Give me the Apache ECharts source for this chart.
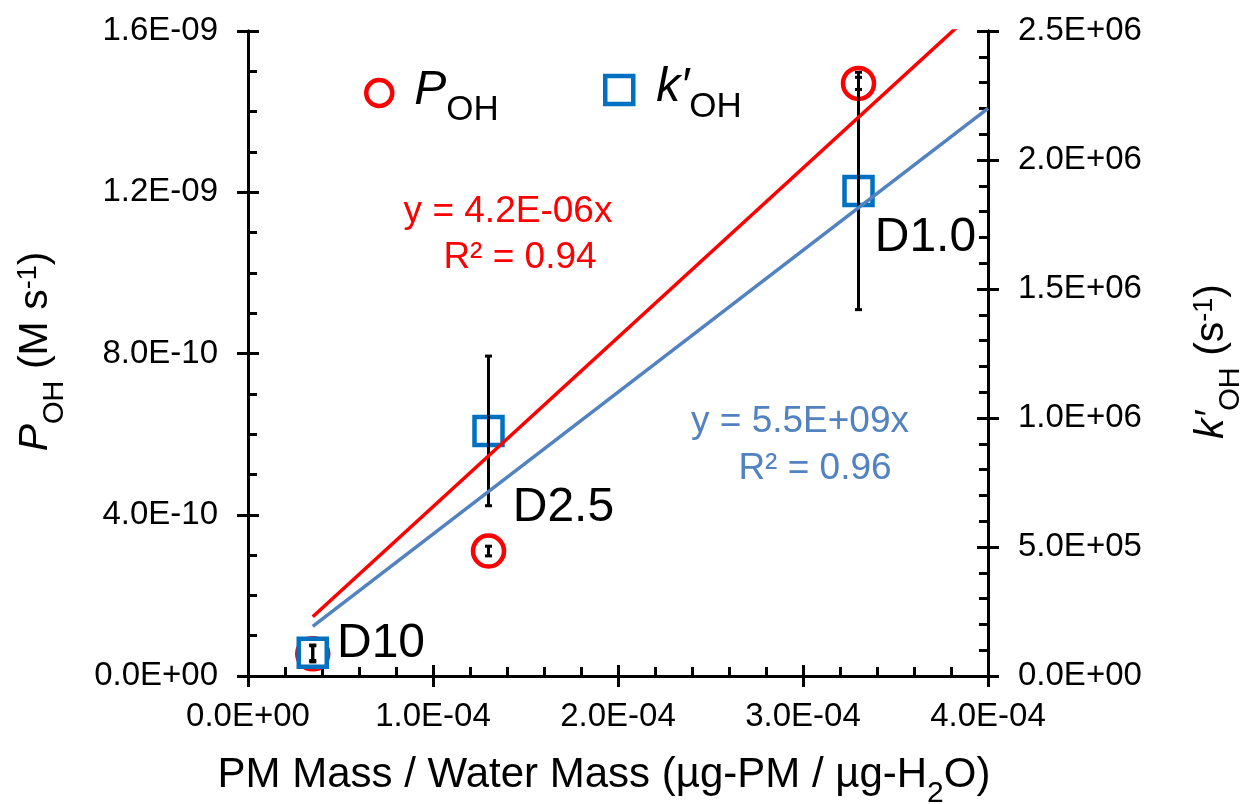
<!DOCTYPE html>
<html>
<head>
<meta charset="utf-8">
<script src="https://cdn.jsdelivr.net/npm/echarts@6/dist/echarts.min.js"></script>
<style>
  html, body { margin: 0; padding: 0; background: #fff; }
  #chart { width: 1242px; height: 804px; }
</style>
</head>
<body>
<div id="chart"></div>
<script>
// Samples (size-resolved PM extracts)
const sampleNames = ['D10', 'D2.5', 'D1.0'];
// PM mass / water mass (µg-PM / µg-H2O)
const massRatio = [3.5e-5, 1.3e-4, 3.3e-4];
// OH production rate P_OH (M s^-1) and its uncertainty
const pOH = [5.5e-11, 3.1e-10, 1.47e-9];
const pOHErr = [2.0e-11, 1.2e-11, 1.5e-11];
// OH sink k'_OH (s^-1) and its uncertainty
const kOH = [9.0e4, 9.5e5, 1.88e6];
const kOHErr = [3.0e4, 2.9e5, 4.6e5];
// Linear fits through the origin: [P_OH, k'_OH]
const trendSlopes = [4.2e-6, 5.5e9];
const trendR2 = [0.94, 0.96];
const trendXRange = [3.5e-5, 4.0e-4];
// Axis ranges: [min, max, interval]
const xRange = [0, 4.0e-4, 1.0e-4];
const leftRange = [0, 1.6e-9, 4.0e-10];
const rightRange = [0, 2.5e6, 5.0e5];

const FONT = '"Liberation Sans", Arial, sans-serif';
const RED = '#FF0000';
const BLUE = '#0070C0';
const FIT_BLUE = '#5282C0';

// Excel-style scientific notation, e.g. 1.6E-09
function sci(v, digits) {
  const s = Number(v).toExponential(digits);
  const parts = s.split('e');
  const sign = parts[1][0] === '-' ? '-' : '+';
  const exp = parts[1].replace(/^[+-]/, '').padStart(2, '0');
  return parts[0] + 'E' + sign + exp;
}

const axisLineStyle = { color: '#000', width: 3 };
const tickLabel = { color: '#000', fontFamily: FONT, fontSize: 33 };

// Main axis: line, labels, inward major + minor ticks
function mainAxis(range, splits, extra) {
  return Object.assign({
    type: 'value',
    min: range[0], max: range[1], interval: range[2],
    axisLine: { show: true, onZero: false, lineStyle: axisLineStyle },
    axisTick: { show: true, inside: true, length: 11, lineStyle: axisLineStyle },
    minorTick: { show: true, splitNumber: splits, length: 9, lineStyle: { color: '#000', width: 3 } },
    splitLine: { show: false },
    axisLabel: Object.assign({ formatter: v => sci(v, 1), margin: 30 }, tickLabel)
  }, extra);
}
// Companion axis carrying the outward half of the major ticks
function tickAxis(range, extra) {
  return Object.assign({
    type: 'value',
    min: range[0], max: range[1], interval: range[2],
    axisLine: { show: true, onZero: false, lineStyle: axisLineStyle },
    axisTick: { show: true, inside: false, length: 11, lineStyle: axisLineStyle },
    axisLabel: { show: false },
    splitLine: { show: false }
  }, extra);
}

const richCommon = {
  n: { fontFamily: FONT, fontSize: 41, color: '#000', lineHeight: 48, verticalAlign: 'top' },
  i: { fontFamily: FONT, fontSize: 41, fontStyle: 'italic', color: '#000', lineHeight: 48, verticalAlign: 'top' },
  sub: { fontFamily: FONT, fontSize: 29, color: '#000', lineHeight: 29, padding: [25, 0, 0, 0], verticalAlign: 'top' },
  sup: { fontFamily: FONT, fontSize: 27, color: '#000', lineHeight: 27, padding: [0, 0, 0, 0], verticalAlign: 'top' }
};
const richTitleX = {
  n: Object.assign({}, richCommon.n, { fontSize: 42 }),
  sub: Object.assign({}, richCommon.sub, { fontSize: 30 })
};

function errorBars(yIndex, values, errs) {
  return {
    type: 'custom',
    xAxisIndex: 0,
    yAxisIndex: yIndex,
    z: 3,
    silent: true,
    encode: { x: 0, y: [1, 2] },
    data: massRatio.map((x, i) => [x, values[i] - errs[i], values[i] + errs[i]]),
    renderItem: function (params, api) {
      const x = api.value(0);
      const lo = api.coord([x, api.value(1)]);
      const hi = api.coord([x, api.value(2)]);
      const cap = 3.5;
      const st = { stroke: '#000', lineWidth: 3 };
      return {
        type: 'group',
        children: [
          { type: 'line', shape: { x1: lo[0], y1: lo[1], x2: hi[0], y2: hi[1] }, style: st },
          { type: 'line', shape: { x1: lo[0] - cap, y1: lo[1], x2: lo[0] + cap, y2: lo[1] }, style: st },
          { type: 'line', shape: { x1: hi[0] - cap, y1: hi[1], x2: hi[0] + cap, y2: hi[1] }, style: st }
        ]
      };
    }
  };
}

function trendLine(yIndex, slope, color) {
  return {
    type: 'line',
    xAxisIndex: 0,
    yAxisIndex: yIndex,
    z: 4,
    silent: true,
    symbol: 'none',
    clip: true,
    lineStyle: { color: color, width: 3.5 },
    data: trendXRange.map(x => [x, slope * x])
  };
}

// Sample-name label placement next to each k'_OH marker
const sampleLabelOffsets = [[3, -9], [3, 77], [-5, 47]];

const option = {
  animation: false,
  backgroundColor: '#fff',
  grid: { left: 248, right: 254, top: 31, bottom: 128, containLabel: false, outerBoundsMode: 'none' },
  xAxis: [
    mainAxis(xRange, 5, {
      position: 'bottom',
      axisLabel: Object.assign({ formatter: v => sci(v, 1), margin: 24 }, tickLabel),
      name: '{n|PM Mass / Water Mass (µg-PM / µg-H}{sub|2}{n|O)}',
      nameLocation: 'middle',
      nameGap: 78,
      nameTextStyle: { rich: richTitleX, padding: [0, 28, 0, 0] }
    }),
    tickAxis(xRange, { position: 'bottom' })
  ],
  yAxis: [
    mainAxis(leftRange, 4, {
      position: 'left',
      name: '{i|P}{sub|OH}{n| (M s}{sup|-1}{n|)}',
      nameLocation: 'middle',
      nameRotate: 90,
      nameGap: 185,
      nameTextStyle: { rich: richCommon, padding: [0, 0, 0, 4] }
    }),
    mainAxis(rightRange, 5, {
      position: 'right',
      name: '{i|k′}{sub|OH}{n| (s}{sup|-1}{n|)}',
      nameLocation: 'middle',
      nameRotate: 90,
      nameGap: 203,
      nameTextStyle: { rich: richCommon, padding: [0, 16, 0, 0] }
    }),
    tickAxis(leftRange, { position: 'left' }),
    tickAxis(rightRange, { position: 'right' })
  ],
  legend: [
    {
      left: 359, top: 62,
      padding: 5,
      itemWidth: 26, itemHeight: 26,
      selectedMode: false,
      data: [{ name: 'POH', icon: 'circle', itemStyle: { color: '#fff', borderColor: RED, borderWidth: 4.5 } }],
      formatter: () => '{i|P}{s|OH}',
      textStyle: {
        rich: {
          i: { fontFamily: FONT, fontSize: 48, fontStyle: 'italic', color: '#000', lineHeight: 52, verticalAlign: 'top', padding: [0, 0, 0, 17] },
          s: { fontFamily: FONT, fontSize: 35, color: '#000', lineHeight: 35, verticalAlign: 'top', padding: [26, 0, 0, 0] }
        }
      }
    },
    {
      left: 598, top: 59,
      padding: 5,
      itemWidth: 28, itemHeight: 28,
      selectedMode: false,
      data: [{ name: 'kOH', icon: 'rect', itemStyle: { color: '#fff', borderColor: BLUE, borderWidth: 4.5 } }],
      formatter: () => '{i|k′}{s|OH}',
      textStyle: {
        rich: {
          i: { fontFamily: FONT, fontSize: 48, fontStyle: 'italic', color: '#000', lineHeight: 52, verticalAlign: 'top', padding: [0, 0, 0, 18] },
          s: { fontFamily: FONT, fontSize: 35, color: '#000', lineHeight: 35, verticalAlign: 'top', padding: [26, 0, 0, 0] }
        }
      }
    }
  ],
  graphic: [
    { type: 'text', x: 508, y: 212, style: { text: 'y = ' + sci(trendSlopes[0], 1) + 'x', fill: RED, font: '37px ' + FONT, textAlign: 'center', textVerticalAlign: 'middle' } },
    { type: 'text', x: 520, y: 258, style: { text: 'R² = ' + trendR2[0].toFixed(2), fill: RED, font: '37px ' + FONT, textAlign: 'center', textVerticalAlign: 'middle' } },
    { type: 'text', x: 800, y: 422, style: { text: 'y = ' + sci(trendSlopes[1], 1) + 'x', fill: FIT_BLUE, font: '37px ' + FONT, textAlign: 'center', textVerticalAlign: 'middle' } },
    { type: 'text', x: 815, y: 469, style: { text: 'R² = ' + trendR2[1].toFixed(2), fill: FIT_BLUE, font: '37px ' + FONT, textAlign: 'center', textVerticalAlign: 'middle' } }
  ],
  series: [
    {
      name: 'POH',
      type: 'scatter',
      xAxisIndex: 0, yAxisIndex: 0,
      z: 2,
      symbol: 'circle',
      symbolSize: 31,
      itemStyle: { color: '#fff', borderColor: RED, borderWidth: 4.5, opacity: 1 },
      data: massRatio.map((x, i) => [x, pOH[i]])
    },
    {
      name: 'kOH',
      type: 'scatter',
      xAxisIndex: 0, yAxisIndex: 1,
      z: 2,
      symbol: 'rect',
      symbolSize: 28,
      itemStyle: { color: '#fff', borderColor: BLUE, borderWidth: 4.5, opacity: 1 },
      data: massRatio.map((x, i) => ({
        value: [x, kOH[i]],
        label: {
          show: true,
          position: 'right',
          distance: 5,
          offset: sampleLabelOffsets[i],
          formatter: sampleNames[i],
          fontFamily: FONT,
          fontSize: 48,
          color: '#000'
        }
      }))
    },
    errorBars(0, pOH, pOHErr),
    errorBars(1, kOH, kOHErr),
    trendLine(0, trendSlopes[0], RED),
    trendLine(1, trendSlopes[1], FIT_BLUE)
  ]
};

const chart = echarts.init(document.getElementById('chart'), null, { renderer: 'canvas' });
chart.setOption(option);
</script>
</body>
</html>
